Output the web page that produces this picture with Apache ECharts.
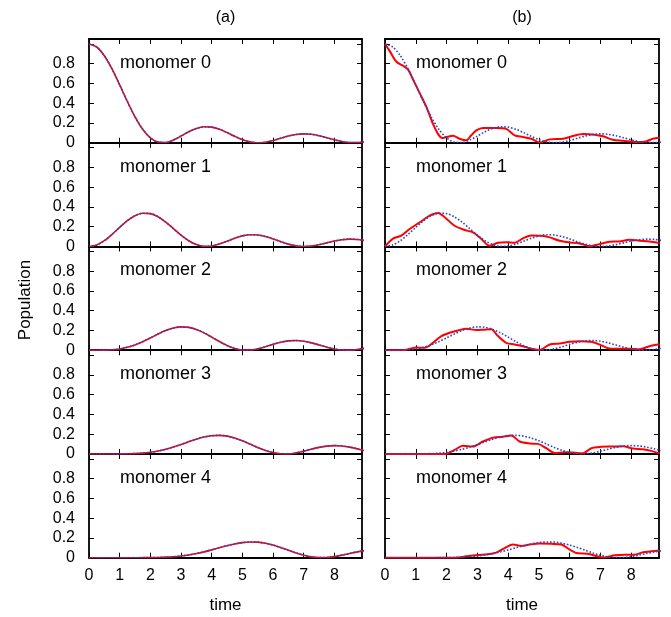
<!DOCTYPE html>
<html><head><meta charset="utf-8">
<script src="https://cdn.jsdelivr.net/npm/echarts@6/dist/echarts.min.js"></script>
<style>html,body{margin:0;padding:0;background:#fff}#c{width:671px;height:617px}</style>
</head><body><div id="c"></div>
<script>
// ---- data ----
const timeA = [0,0.25,0.5,0.75,1,1.25,1.5,1.75,2,2.25,2.5,2.75,3,3.25,3.5,3.75,4,4.25,4.5,4.75,5,5.25,5.5,5.75,6,6.25,6.5,6.75,7,7.25,7.5,7.75,8,8.25,8.5,8.75,9];
const exact0 = [1,0.9691,0.8807,0.7469,0.5855,0.4173,0.2620,0.1362,0.0501,0.0068,0.0023,0.0269,0.0676,0.1108,0.1445,0.1611,0.1577,0.1363,0.1027,0.0651,0.0315,0.0087,0.0000,0.0058,0.0227,0.0452,0.0677,0.0838,0.0901,0.0853,0.0709,0.0508,0.0295,0.0120,0.0018,0.0007,0.0082];
const exact1 = [0,0.0154,0.0587,0.1220,0.1937,0.2607,0.3113,0.3366,0.3326,0.3007,0.2471,0.1815,0.1150,0.0581,0.0189,0.0011,0.0044,0.0242,0.0534,0.0832,0.1073,0.1191,0.1166,0.1011,0.0766,0.0487,0.0237,0.0064,0.0000,0.0047,0.0183,0.0367,0.0550,0.0687,0.0746,0.0714,0.0602];
const exact2 = [0,0.0001,0.0009,0.0045,0.0132,0.0292,0.0539,0.0864,0.1245,0.1638,0.1990,0.2246,0.2364,0.2315,0.2103,0.1757,0.1326,0.0876,0.0474,0.0179,0.0022,0.0015,0.0138,0.0348,0.0590,0.0803,0.0945,0.0980,0.0909,0.0746,0.0530,0.0309,0.0128,0.0021,0.0005,0.0076,0.0210];
const exact3 = [0,0,0,0.0001,0.0004,0.0014,0.0037,0.0084,0.0166,0.0293,0.0469,0.0694,0.0955,0.1232,0.1496,0.1713,0.1851,0.1885,0.1804,0.1609,0.1331,0.0998,0.0656,0.0355,0.0132,0.0016,0.0013,0.0111,0.0281,0.0481,0.0666,0.0797,0.0847,0.0809,0.0690,0.0517,0.0327];
const exact4 = [0,0,0,0,0,0,0.0001,0.0004,0.0012,0.0027,0.0054,0.0101,0.0174,0.0279,0.0418,0.0591,0.0790,0.1005,0.1214,0.1391,0.1530,0.1594,0.1574,0.1466,0.1279,0.1031,0.0755,0.0481,0.0249,0.0084,0.0006,0.0018,0.0111,0.0259,0.0431,0.0590,0.0705];

const bTime0 = [0,0.15,0.37,0.58,0.75,0.91,1.13,1.34,1.56,1.72,1.86,1.99,2.21,2.42,2.64,2.8,2.97,3.18,3.61,3.94,4.21,4.48,4.75,5.02,5.35,5.78,6.1,6.43,6.81,7.08,7.4,7.73,8.16,8.48,8.7,8.92];
const bPop0  = [1.0,0.93,0.82,0.78,0.74,0.64,0.50,0.365,0.19,0.09,0.048,0.058,0.07,0.04,0.024,0.075,0.126,0.15,0.15,0.14,0.075,0.058,0.04,0.003,0.034,0.04,0.068,0.089,0.082,0.065,0.03,0.02,0.007,0.014,0.04,0.051];
const bTime1 = [0,0.26,0.53,0.8,1.13,1.45,1.72,1.94,2.26,2.59,2.86,3.13,3.4,3.67,3.94,4.21,4.48,4.75,5.08,5.35,5.67,6.0,6.32,6.65,6.97,7.29,7.61,7.94,8.27,8.59,8.92];
const bPop1  = [0,0.08,0.11,0.177,0.245,0.313,0.34,0.296,0.21,0.167,0.143,0.075,0.007,0.037,0.044,0.037,0.082,0.112,0.109,0.092,0.058,0.041,0.031,0.003,0.024,0.048,0.051,0.068,0.058,0.051,0.034];
const bTime2 = [0,0.6,0.8,1.02,1.29,1.56,1.83,2.1,2.37,2.64,2.97,3.23,3.45,3.67,3.94,4.21,4.48,4.75,5.02,5.35,5.67,6.0,6.32,6.7,6.97,7.29,7.61,7.94,8.27,8.59,8.92];
const bPop2  = [0,0,0.014,0.027,0.024,0.075,0.143,0.177,0.2,0.218,0.204,0.208,0.211,0.143,0.075,0.058,0.041,0.014,0.003,0.058,0.068,0.085,0.092,0.085,0.058,0.017,0.014,0.014,0.01,0.041,0.061];
const bTime3 = [0,1.94,2.26,2.53,2.86,3.18,3.51,3.83,4.1,4.37,4.7,4.97,5.24,5.51,5.84,6.1,6.43,6.7,7.02,7.4,7.73,8.05,8.38,8.65,8.92];
const bPop3  = [0,0,0.041,0.082,0.075,0.126,0.164,0.174,0.187,0.126,0.106,0.102,0.058,0.01,0.017,0.014,0.007,0.058,0.072,0.075,0.078,0.055,0.048,0.031,0.003];
const bTime4 = [0,2.3,2.64,3.02,3.34,3.61,3.9,4.16,4.43,4.7,5.02,5.4,5.73,6.0,6.27,6.59,6.86,7.13,7.46,7.78,8.1,8.38,8.65,8.92];
const bPop4  = [0,0,0.014,0.027,0.034,0.051,0.1,0.133,0.119,0.133,0.143,0.14,0.133,0.082,0.044,0.041,0.017,0.003,0.024,0.031,0.031,0.055,0.065,0.072];

const xTicks = [0,1,2,3,4,5,6,7,8];
const yTicks = [0,0.2,0.4,0.6,0.8,1.0];
const yLabels = [0,0.2,0.4,0.6,0.8];
const panelLabels = ['monomer 0','monomer 1','monomer 2','monomer 3','monomer 4'];
const colTitles = ['(a)','(b)'];
const xTitle = 'time';
const yTitle = 'Population';

// ---- build ----
const exact = [exact0,exact1,exact2,exact3,exact4];
const bTimes = [bTime0,bTime1,bTime2,bTime3,bTime4];
const bPops = [bPop0,bPop1,bPop2,bPop3,bPop4];
const pair = (ts, vs) => ts.map((t,i)=>[t, vs[i]]);

const FONT = '"Liberation Sans", Arial, Helvetica, sans-serif';
const colLeft = [89, 385], colWidth = [273, 274];
const top0 = 39, ph = 103.74;
const RED = '#ff0000', BLUE = '#2b45c8';
const grids=[], xAxes=[], yAxes=[], series=[], graphics=[];

for (let c=0;c<2;c++){
  for (let r=0;r<5;r++){
    const g = grids.length;
    grids.push({left: colLeft[c], width: colWidth[c], top: top0 + r*ph, height: ph});
    const axLine = {show:true, onZero:false, lineStyle:{color:'#000', width:1.8}};
    const tick = {show:true, inside:true, length:5, lineStyle:{color:'#000', width:1}};
    xAxes.push({type:'value', gridIndex:g, min:0, max:8.9, position:'bottom',
      axisLine:axLine, axisTick:Object.assign({customValues:xTicks}, tick), splitLine:{show:false},
      axisLabel:{show: r===4, customValues:xTicks, color:'#000', fontSize:16, fontFamily:FONT, margin:10}});
    xAxes.push({type:'value', gridIndex:g, min:0, max:8.9, position:'top',
      axisLine:axLine, axisTick:Object.assign({customValues:xTicks}, tick), splitLine:{show:false},
      axisLabel:{show:false}});
    yAxes.push({type:'value', gridIndex:g, min:0, max:1.05, position:'left',
      axisLine:axLine, axisTick:Object.assign({customValues:yTicks}, tick), splitLine:{show:false},
      axisLabel:{show: c===0, customValues:yLabels, color:'#000', fontSize:16, fontFamily:FONT, margin:14}});
    yAxes.push({type:'value', gridIndex:g, min:0, max:1.05, position:'right',
      axisLine:axLine, axisTick:Object.assign({customValues:yTicks}, tick), splitLine:{show:false},
      axisLabel:{show:false}});
    const redData = c===0 ? pair(timeA, exact[r]) : pair(bTimes[r], bPops[r]);
    series.push({type:'line', xAxisIndex:2*g, yAxisIndex:2*g, data:redData, showSymbol:false,
      smooth:0.3, clip:true, lineStyle:{color:RED, width:c===0?1.6:2}, z:2});
    series.push({type:'line', xAxisIndex:2*g, yAxisIndex:2*g, data:pair(timeA, exact[r]), showSymbol:false,
      smooth:0.3, clip:true, lineStyle:{color:BLUE, width:1.6, type:[1.6,1.8]}, z:3});
    graphics.push({type:'text', x: colLeft[c]+31, y: top0 + r*ph + 24,
      style:{text: panelLabels[r], fontSize:18, fontFamily:FONT, fill:'#000', align:'left', verticalAlign:'middle'}});
  }
  const cx = colLeft[c] + colWidth[c]/2;
  graphics.push({type:'text', x: cx, y: 18,
    style:{text: colTitles[c], fontSize:16, fontFamily:FONT, fill:'#000', align:'center', verticalAlign:'middle'}});
  graphics.push({type:'text', x: cx, y: 605,
    style:{text: xTitle, fontSize:17, fontFamily:FONT, fill:'#000', align:'center', verticalAlign:'middle'}});
}
graphics.push({type:'text', x: 25, y: 300, rotation: Math.PI/2,
  style:{text: yTitle, fontSize:17, fontFamily:FONT, fill:'#000', align:'center', verticalAlign:'middle'}});

const chart = echarts.init(document.getElementById('c'), null, {renderer:'canvas'});
chart.setOption({animation:false, backgroundColor:'#fff', grid:grids, xAxis:xAxes, yAxis:yAxes, series:series, graphic:graphics});
</script></body></html>
